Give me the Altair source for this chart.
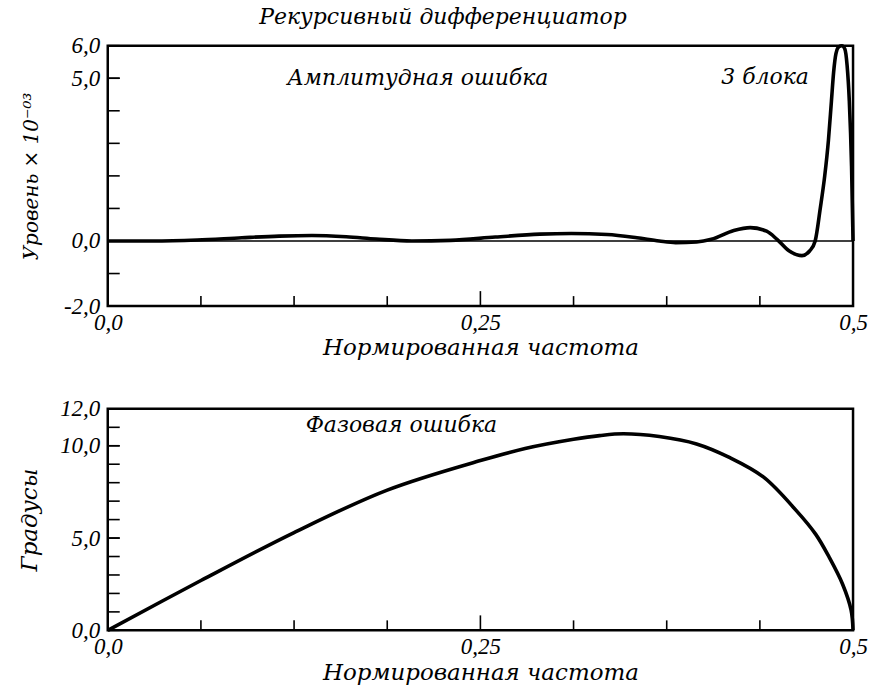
import altair as alt
import pandas as pd

# ---- data ----
amp_freq = [0.0, 0.03, 0.06, 0.09, 0.115, 0.137, 0.16, 0.18, 0.204, 0.23, 0.26, 0.29,
            0.311, 0.335, 0.355, 0.37, 0.381, 0.395, 0.405, 0.42, 0.431, 0.442, 0.449,
            0.457, 0.4657, 0.471, 0.4746, 0.478, 0.481, 0.4835, 0.4855, 0.487, 0.4885,
            0.4905, 0.4925, 0.4945, 0.496, 0.4975, 0.499, 0.5]
amp_err = [0.0, 0.0, 0.03, 0.1, 0.15, 0.17, 0.13, 0.06, 0.0, 0.02, 0.12, 0.21,
           0.23, 0.2, 0.1, 0.0, -0.05, -0.03, 0.05, 0.32, 0.41, 0.3, 0.05,
           -0.3, -0.45, -0.3, 0.0, 1.0, 2.0, 3.1, 4.3, 5.2, 5.75,
           5.97, 6.0, 5.9, 5.4, 4.3, 2.3, 0.0]

ph_freq = [0.0, 0.0625, 0.125, 0.1875, 0.25, 0.28, 0.3125, 0.33, 0.346, 0.37, 0.395,
           0.417, 0.44, 0.4618, 0.475, 0.484, 0.493, 0.4987, 0.5]
ph_err = [0.0, 2.7, 5.3, 7.6, 9.2, 9.85, 10.35, 10.55, 10.65, 10.5, 10.1,
          9.37, 8.3, 6.5, 5.2, 3.96, 2.5, 1.1, 0.0]

x_label_values = [0.0, 0.25, 0.5]
x_labels = ["0,0", "0,25", "0,5"]
x_minor_ticks = [0.0625, 0.125, 0.1875, 0.3125, 0.375, 0.4375]
x_major_ticks = [0.25]

amp_label_values = [-2.0, 0.0, 5.0, 6.0]
amp_labels = ["-2,0", "0,0", "5,0", "6,0"]
amp_ticks = [-1, 1, 2, 3, 4, 5]

ph_label_values = [0.0, 5.0, 10.0, 12.0]
ph_labels = ["0,0", "5,0", "10,0", "12,0"]
ph_ticks = [1, 2, 3, 4, 5, 6, 7, 8, 9, 10, 11]

amp_notes_x = [0.208, 0.441]
amp_notes_y = [5.0, 5.05]
amp_notes = ["Амплитудная ошибка", "3 блока"]
ph_notes_x = [0.197]
ph_notes_y = [11.1]
ph_notes = ["Фазовая ошибка"]

NUM_FONT = "Liberation Serif"
TXT_FONT = "DejaVu Serif"
W = 747


def label_expr(values, labels):
    expr = "''"
    for v, l in reversed(list(zip(values, labels))):
        expr = f"datum.value == {v} ? '{l}' : ({expr})"
    return expr


def panel(freq, vals, ydom, ylv, ylabs, yticks, ytitle, ytsize, ytpad, H, nx, ny, nt,
          zero_line, interp):
    xs = alt.Scale(domain=[0, 0.5], nice=False, zero=False)
    ys = alt.Scale(domain=ydom, nice=False, zero=False)
    xaxis = alt.Axis(values=x_label_values, labelExpr=label_expr(x_label_values, x_labels),
                     title="Нормированная частота", labelFlush=False,
                     labelPadding=5, titlePadding=3, titleColor="black")
    yaxis = alt.Axis(values=ylv, labelExpr=label_expr(ylv, ylabs), title=ytitle,
                     labelFlush=False, labelPadding=8, titlePadding=ytpad,
                     titleFontSize=ytsize, titleColor="black")

    line = alt.Chart(pd.DataFrame({"f": freq, "v": vals})).mark_line(
        color="black", strokeWidth=3.6, interpolate=interp
    ).encode(x=alt.X("f:Q", scale=xs, axis=xaxis), y=alt.Y("v:Q", scale=ys, axis=yaxis))

    xt_minor = alt.Chart(pd.DataFrame({"f": x_minor_ticks})).mark_rule(
        color="black", strokeWidth=1.6
    ).encode(x=alt.X("f:Q", scale=xs, axis=xaxis), y=alt.value(H), y2=alt.value(H - 10))
    xt_major = alt.Chart(pd.DataFrame({"f": x_major_ticks})).mark_rule(
        color="black", strokeWidth=1.6
    ).encode(x=alt.X("f:Q", scale=xs, axis=xaxis), y=alt.value(H), y2=alt.value(H - 15))
    yt = alt.Chart(pd.DataFrame({"v": yticks + ylv})).mark_rule(
        color="black", strokeWidth=1.6
    ).encode(y=alt.Y("v:Q", scale=ys, axis=yaxis), x=alt.value(0), x2=alt.value(12))

    notes = alt.Chart(pd.DataFrame({"f": nx, "v": ny, "t": nt})).mark_text(
        font=TXT_FONT, fontStyle="italic", fontSize=22, color="black", align="center",
        baseline="middle"
    ).encode(x=alt.X("f:Q", scale=xs, axis=xaxis), y=alt.Y("v:Q", scale=ys, axis=yaxis),
             text="t:N")

    layers = [xt_minor, xt_major, yt]
    if zero_line:
        zl = alt.Chart(pd.DataFrame({"v": [0.0]})).mark_rule(
            color="black", strokeWidth=1.3
        ).encode(y=alt.Y("v:Q", scale=ys, axis=yaxis), x=alt.value(0), x2=alt.value(W))
        layers.append(zl)
    layers += [line, notes]
    return alt.layer(*layers).properties(width=W, height=H)


top = panel(amp_freq, amp_err, [-2, 6], amp_label_values, amp_labels, amp_ticks,
            "Уровень × 10⁻⁰³", 20, 22, 261, amp_notes_x, amp_notes_y, amp_notes, True,
            "monotone")
bottom = panel(ph_freq, ph_err, [0, 12], ph_label_values, ph_labels, ph_ticks,
               "Градусы", 23, 18, 222, ph_notes_x, ph_notes_y, ph_notes, False,
               "catmull-rom")

chart = alt.vconcat(top, bottom, spacing=34).properties(
    title=alt.TitleParams("Рекурсивный дифференциатор", font=TXT_FONT, fontStyle="italic",
                          fontSize=22, fontWeight="normal", color="black", offset=4,
                          anchor="middle"),
    padding={"left": 17, "top": 5, "right": 2, "bottom": 1},
    background="white",
).configure_view(stroke="black", strokeWidth=2.5).configure_axis(
    domain=False, ticks=False, grid=False,
    labelFont=NUM_FONT, labelFontStyle="italic", labelFontSize=23, labelColor="black",
    titleFont=TXT_FONT, titleFontStyle="italic", titleFontSize=23, titleFontWeight="normal",
    titleColor="black",
)

chart.save("out.html", embed_options={"renderer": "svg", "actions": False})
